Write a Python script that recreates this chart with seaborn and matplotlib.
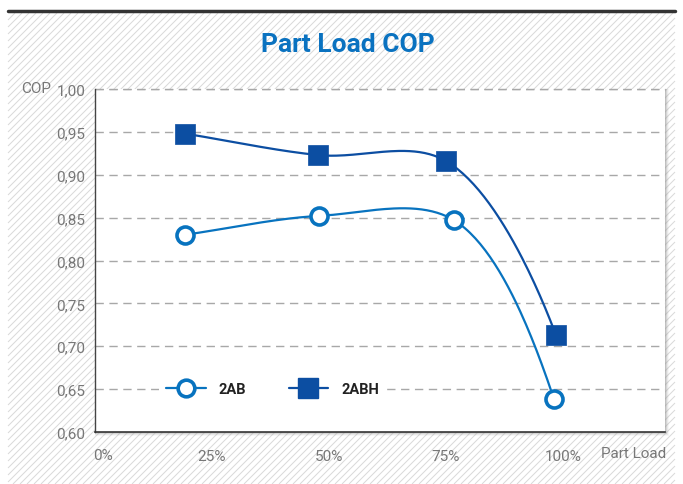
import seaborn as sns
import matplotlib.pyplot as plt
import numpy as np
from matplotlib.patches import Rectangle
from matplotlib.lines import Line2D
from matplotlib.collections import LineCollection

# values
load_2ab = [19.2, 47.9, 76.7, 98.1]
cop_2ab = [0.830, 0.852, 0.847, 0.638]
load_2abh = [19.2, 47.6, 75.0, 98.5]
cop_2abh = [0.948, 0.923, 0.916, 0.713]
x_ticks = [0, 25, 50, 75, 100]
x_labels = ['0%', '25%', '50%', '75%', '100%']
y_ticks = [0.60, 0.65, 0.70, 0.75, 0.80, 0.85, 0.90, 0.95, 1.00]

blue_2ab = '#0873bf'
blue_2abh = '#0c4ea2'
label_grey = '#777777'

W, H = 683, 485


def smooth(ax, xs, ys, n=50, alpha=0.5):
    # centripetal catmull-rom through the points, done in screen space
    p = ax.transData.transform(np.column_stack([xs, ys]))
    d = p[-1] - p[-2]
    end_pad = p[-1] + np.array([0.25 * d[0], d[1]])  # let the curve fall off steeply at the end
    p = np.vstack([2 * p[0] - p[1], p, end_pad])
    out = []
    for i in range(1, len(p) - 2):
        P0, P1, P2, P3 = p[i - 1], p[i], p[i + 1], p[i + 2]
        t0 = 0.0
        t1 = t0 + np.linalg.norm(P1 - P0) ** alpha
        t2 = t1 + np.linalg.norm(P2 - P1) ** alpha
        t3 = t2 + np.linalg.norm(P3 - P2) ** alpha
        t = np.linspace(t1, t2, n)[:, None]
        A1 = (t1 - t) / (t1 - t0) * P0 + (t - t0) / (t1 - t0) * P1
        A2 = (t2 - t) / (t2 - t1) * P1 + (t - t1) / (t2 - t1) * P2
        A3 = (t3 - t) / (t3 - t2) * P2 + (t - t2) / (t3 - t2) * P3
        B1 = (t2 - t) / (t2 - t0) * A1 + (t - t0) / (t2 - t0) * A2
        B2 = (t3 - t) / (t3 - t1) * A2 + (t - t1) / (t3 - t1) * A3
        C = (t2 - t) / (t2 - t1) * B1 + (t - t1) / (t2 - t1) * B2
        out.append(C)
    out = ax.transData.inverted().transform(np.vstack(out))
    return out[:, 0], out[:, 1]


sns.set_style('white')
plt.rcParams['font.family'] = ['Roboto', 'DejaVu Sans']

fig = plt.figure(figsize=(W / 100, H / 100), dpi=100)
fig.patch.set_facecolor('white')

# hatched background (diagonal lines) + top rule
x0, x1, y0, y1 = 8, 675, 14, H
segs = []
for c in np.arange(x0 - (y1 - y0), x1, 7.0):
    xa, ya = c, y1
    xb, yb = c + (y1 - y0), y0
    if xa < x0:
        ya -= (x0 - xa)
        xa = x0
    if xb > x1:
        yb += (xb - x1)
        xb = x1
    if xa >= xb:
        continue
    segs.append([(xa / W, 1 - ya / H), (xb / W, 1 - yb / H)])
lc = LineCollection(segs, colors='#d9d9d9', linewidths=0.7, transform=fig.transFigure, zorder=-10)
fig.add_artist(lc)
fig.add_artist(Line2D([x0 / W, x1 / W], [1 - 12 / H, 1 - 12 / H], color='#333333', lw=2.5))

# drop shadow of plot area
for i, a in enumerate([0.35, 0.25, 0.15, 0.08]):
    fig.patches.append(Rectangle((95 / W, 1 - (434 + i) / H), (571 + i) / W, (344 + i) / H,
                                 transform=fig.transFigure, facecolor='#9a9a9a', alpha=a,
                                 edgecolor='none', zorder=-5 - i))
fig.patches.append(Rectangle((95 / W, 1 - 433 / H), 570 / W, 343 / H, transform=fig.transFigure,
                             facecolor='white', edgecolor='none', zorder=-4))

ax = fig.add_axes([95 / W, 1 - 433 / H, 570 / W, 343 / H])
ax.set_facecolor('white')
ax.set_xlim(0, 121.8)
ax.set_ylim(0.60, 1.00)

for yv in y_ticks[1:]:
    ax.axhline(yv, color='#a8a8a8', lw=1, ls=(0, (6, 4)), zorder=1)

sx, sy = smooth(ax, load_2ab, cop_2ab)
ax.plot(sx, sy, color=blue_2ab, lw=1.6, zorder=3)
sx, sy = smooth(ax, load_2abh, cop_2abh)
ax.plot(sx, sy, color=blue_2abh, lw=1.6, zorder=3)

sns.scatterplot(x=load_2ab, y=cop_2ab, ax=ax, marker='o', s=150, facecolor='white',
                edgecolor=blue_2ab, linewidth=2.6, zorder=5)
sns.scatterplot(x=load_2abh, y=cop_2abh, ax=ax, marker='s', s=210, color=blue_2abh,
                edgecolor=blue_2abh, linewidth=0.5, zorder=5)

ax.set_xlim(0, 121.8)
ax.set_ylim(0.60, 1.00)
ax.set_xticks(x_ticks[1:])
ax.set_xticklabels(x_labels[1:])
ax.set_yticks(y_ticks)
ax.set_yticklabels([f'{v:.2f}'.replace('.', ',') for v in y_ticks])
ax.tick_params(axis='x', length=5, width=1, color='#333333', direction='out', pad=7,
               labelsize=11, labelcolor=label_grey)
ax.tick_params(axis='y', length=0, pad=7, labelsize=11, labelcolor=label_grey)
ax.set_xlabel('')
ax.set_ylabel('')

for side in ['top', 'right']:
    ax.spines[side].set_visible(False)
ax.spines['left'].set_color('#444444')
ax.spines['bottom'].set_color('#333333')
ax.spines['left'].set_linewidth(1)
ax.spines['bottom'].set_linewidth(1.2)
ax.axhline(1.0, color='#a8a8a8', lw=1, ls=(0, (6, 4)), zorder=1, clip_on=False)

fig.text(103 / W, 1 - 456 / H, '0%', ha='center', va='center', fontsize=11, color=label_grey)
fig.text(634 / W, 1 - 454 / H, 'Part Load', ha='center', va='center', fontsize=11, color=label_grey)
fig.text(36 / W, 1 - 89 / H, 'COP', ha='center', va='center', fontsize=11, color=label_grey)

fig.text(348 / W, 1 - 45 / H, 'Part Load COP', ha='center', va='center', fontsize=19,
         color='#0a72c0', fontweight='bold')

handles = [
    Line2D([], [], color=blue_2ab, lw=1.6, marker='o', markersize=12, markerfacecolor='white',
           markeredgewidth=2.6, markeredgecolor=blue_2ab),
    Line2D([], [], color=blue_2abh, lw=1.6, marker='s', markersize=14, markerfacecolor=blue_2abh,
           markeredgecolor=blue_2abh),
]
leg = ax.legend(handles, ['2AB', '2ABH'], ncol=2, loc='center left',
                bbox_to_anchor=((159 - 95) / 570, 1 - (390 - 90) / 343),
                frameon=True, facecolor='white', edgecolor='none', framealpha=1, handlelength=2.7,
                columnspacing=2.9, handletextpad=0.9, borderpad=0.5, borderaxespad=0,
                prop={'weight': 'bold', 'size': 10.5})
for t in leg.get_texts():
    t.set_color('#222222')
leg.set_zorder(4)

fig.savefig('out.png', dpi=100)
